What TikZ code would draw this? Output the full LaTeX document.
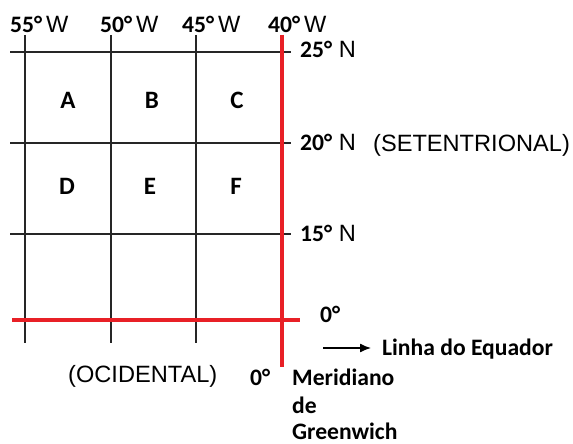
\documentclass[tikz,border=0pt]{standalone}
\usepackage{fontspec}
\setmainfont{Liberation Sans}
\newfontfamily\calib{Carlito}
\usepackage{xcolor}
\usepackage{tikz}
\usetikzlibrary{arrows.meta}

\definecolor{linhared}{RGB}{232,32,38}
\newcommand{\bnum}[1]{{\calib\bfseries #1}}

\tikzset{
    grade/.style = {line width = 1.3pt, black!85},
    marco/.style = {line width = 3.2pt, linhared},
    rotulo/.style = {inner sep = 0pt, font = \fontsize{23.6}{28}\selectfont},
    letra/.style = {inner sep = 0pt, font = \fontsize{25}{30}\selectfont\calib\bfseries}
}

\begin{document}
\begin{tikzpicture}[x = 1pt, y = -1pt]
            \useasboundingbox (0, 0) rectangle (573, 444);

            % meridianos
            \draw[grade] (25, 35) -- (25, 343);
            \draw[grade] (111, 35) -- (111, 343);
            \draw[grade] (196, 35) -- (196, 343);
            % paralelos
            \draw[grade] (10, 52) -- (291, 52);
            \draw[grade] (10, 143) -- (291, 143);
            \draw[grade] (10, 234) -- (291, 234);
            % equador e Greenwich
            \draw[marco] (12, 320) -- (300, 320);
            \draw[marco] (282, 35) -- (282, 367);

            % longitudes
            \node[rotulo, anchor = base west] (w55) at (10, 33) {\bnum{55°}\,W};
            \node[rotulo, anchor = base west] (w50) at (100, 33) {\bnum{50°}\,W};
            \node[rotulo, anchor = base west] (w45) at (182, 33) {\bnum{45°}\,W};
            \node[rotulo, anchor = base west] (w40) at (268, 33) {\bnum{40°}\,W};

            % latitudes
            \node[rotulo, anchor = base west] (n25) at (300, 58) {\bnum{25°}\ N};
            \node[rotulo, anchor = base west] (n20) at (300, 150) {\bnum{20°}\ N};
            \node[rotulo, anchor = base west] (n15) at (300, 241) {\bnum{15°}\ N};
            \node[rotulo, anchor = base west] (setent) at (373, 151) {(SETENTRIONAL)};
            \node[rotulo, anchor = base west] (eq0) at (320, 322) {\bnum{0°}};

            % quadrantes
            \node[letra] (qa) at (68, 100) {A};
            \node[letra] (qb) at (152, 100) {B};
            \node[letra] (qc) at (237, 100) {C};
            \node[letra] (qd) at (67, 186) {D};
            \node[letra] (qe) at (150, 186) {E};
            \node[letra] (qf) at (236, 186) {F};

            % legenda
            \node[rotulo, anchor = base west] (equador) at (382, 355) {\bnum{Linha do Equador}};
            \coordinate (setaini) at (323, 348);
            \draw[line width = 1.3pt, -{Latex[length = 11pt, width = 9pt]}, shorten > = 11pt] (setaini) -- (setaini -| equador.west);
            \node[rotulo, anchor = base west] (ocid) at (68, 382) {(OCIDENTAL)};
            \node[rotulo, anchor = base west] (gr0) at (250, 385) {\bnum{0°}};
            \node[rotulo, anchor = base west] (merid) at (292, 385) {\bnum{Meridiano}};
            \node[rotulo, anchor = base west] (merde) at (292, 413) {\bnum{de}};
            \node[rotulo, anchor = base west] (greenw) at (292, 439) {\bnum{Greenwich}};
\end{tikzpicture}
\end{document}
